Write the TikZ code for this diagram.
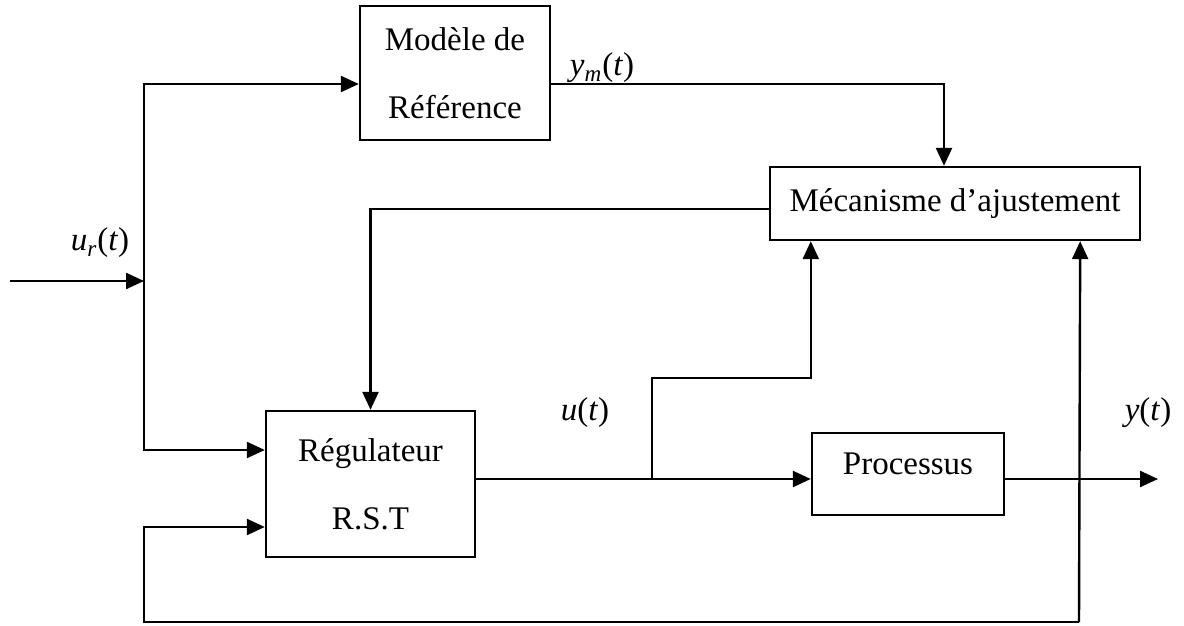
\documentclass[tikz,border=0pt]{standalone}
\usepackage{fontspec}
\setmainfont{Liberation Serif}
\usetikzlibrary{arrows.meta,calc}

\tikzset{
  block/.style={draw, line width=1.2pt, inner sep=0pt, align=center,
    font=\fontsize{16.5}{34}\selectfont},
  sig/.style={line width=1.2pt},
  flow/.style={sig, -{Triangle[length=9pt,width=8pt]}},
  lbl/.style={font=\fontsize{16.5}{20}\selectfont}
}
\newcommand{\sgl}[1]{\textit{#1}}

\begin{document}
\begin{tikzpicture}[x=0.5pt,y=-0.5pt]
        \useasboundingbox (0,0) rectangle (1184,626);

        % blocks
        \node [block, minimum width=95pt, minimum height=67pt] (modele) at (455,73) {Modèle de\\Référence};
        \node [block, minimum width=185pt, minimum height=36.5pt] (meca) at (955,203.5) {Mécanisme d’ajustement};
        \node [block, minimum width=104.5pt, minimum height=73pt] (regul) at (370.5,484) {Régulateur\\R.S.T};
        \node [block, minimum width=96pt, minimum height=41pt] (proc) at (908,474) {\raisebox{5pt}[\height][\depth]{Processus}};

        % branch points
        \coordinate (ur) at (10,281);
        \coordinate (sj) at (144,281);
        \coordinate (u) at (652,479);
        \coordinate (uk) at (652,378);
        \coordinate (yout) at (1158,479);
        \coordinate (fb) at (1079,622);
        \coordinate (fbl) at (144,527);

        % reference input
        \draw [flow] (ur) -- (sj);
        \draw [flow] (sj) |- ($(modele.west)+(0,11)$);
        \draw [flow] (sj) |- ($(regul.west)+(0,-34)$);
        \draw [flow] ($(modele.east)+(0,11)$) -| ($(meca.north)+(-11,0)$);

        % adjustment loop
        \draw [flow] ($(meca.west)+(0,5.5)$) -| (regul.north);
        \draw [sig] (regul.east |- u) -- (u);
        \draw [flow] (u) -- (proc.west |- u);
        \draw [flow] (u) -- (uk) -| ($(meca.south west)+(42,0)$);
        \draw [flow] (proc.east |- u) -- (yout);

        % output feedback
        \draw [flow] (fb) -- ($(meca.south east)+(-61,0)$);
        \draw [flow] (fb) -| (fbl) -- (regul.west |- fbl);

        % signal names
        \node [lbl] (lur) at (100,243) {\sgl{u}\textsubscript{\sgl{r}}(\sgl{t})};
        \node [lbl] (lym) at (602,68) {\sgl{y}\textsubscript{\sgl{m}}(\sgl{t})};
        \node [lbl] (lu) at (585,413) {\sgl{u}(\sgl{t})};
        \node [lbl] (ly) at (1148,413) {\sgl{y}(\sgl{t})};
    \end{tikzpicture}
\end{document}
